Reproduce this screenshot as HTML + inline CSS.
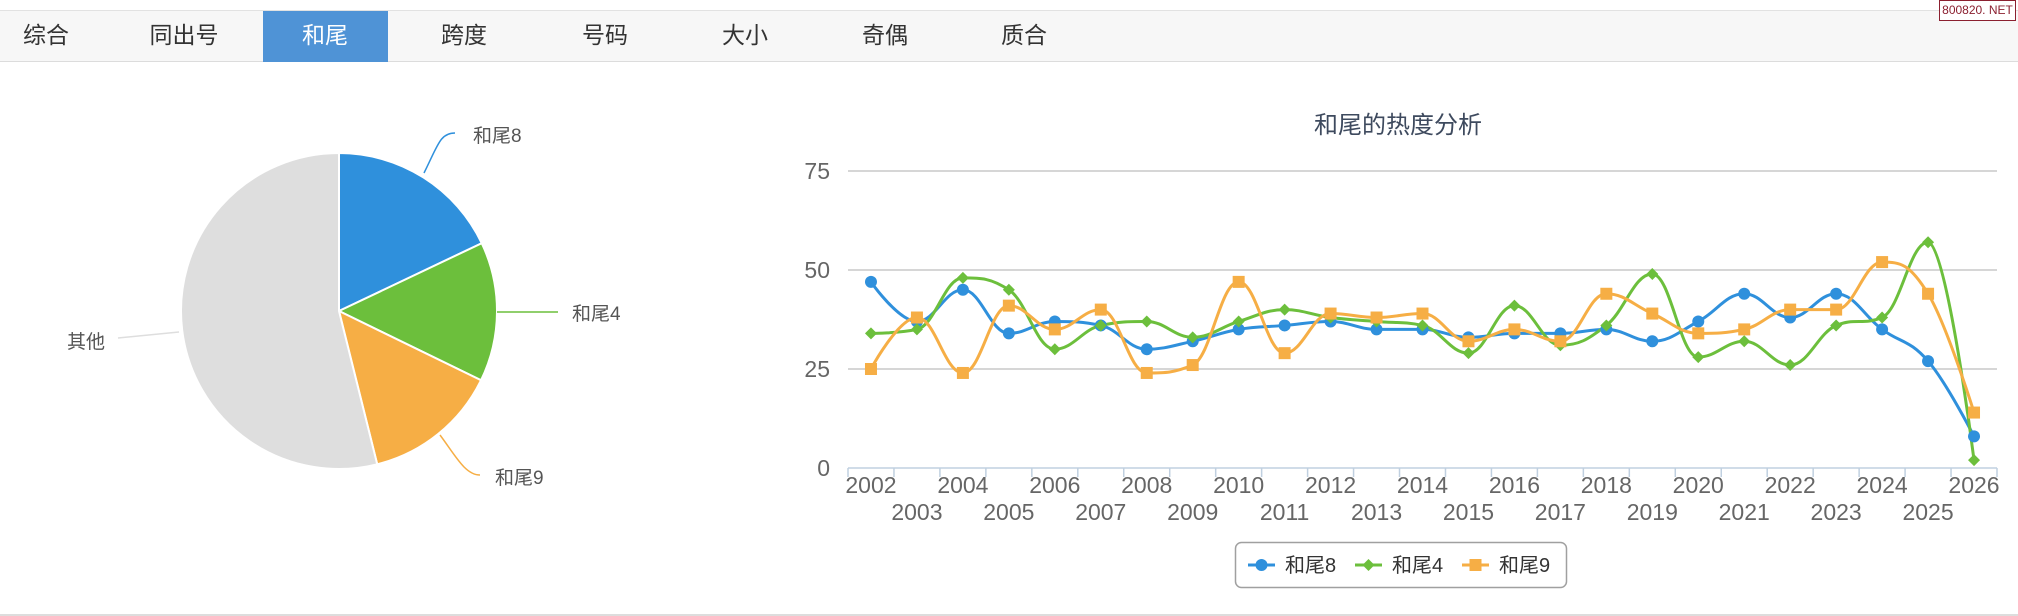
<!DOCTYPE html>
<html><head><meta charset="utf-8">
<style>
html,body{margin:0;padding:0;background:#fff;}
body{width:2018px;height:616px;position:relative;overflow:hidden;font-family:"Liberation Sans","Noto Sans CJK SC",sans-serif;}
.bar{position:absolute;left:0;top:10px;width:2018px;height:52px;background:#f7f7f7;border-top:1px solid #e2e2e2;border-bottom:1px solid #dcdcdc;box-sizing:border-box;}
.tab{position:absolute;top:0;height:51px;line-height:50px;font-size:23px;color:#333;transform:translateX(-50%);white-space:nowrap;}
.act{position:absolute;left:263px;top:11px;width:125px;height:51px;background:#4f93d6;}
.wm{position:absolute;left:1939px;top:0;width:77px;height:21px;border:1px solid #8b2030;box-sizing:border-box;font-size:12px;line-height:19px;color:#8b2030;text-align:center;background:#fff;}
.bl{position:absolute;left:0;top:614px;width:2018px;height:2px;background:#ddd;}
svg{position:absolute;left:0;top:0;}
</style></head><body>
<div class="bar"></div>
<div class="act"></div>
<div class="tab" style="left:46px;top:10px">综合</div>
<div class="tab" style="left:184px;top:10px">同出号</div>
<div class="tab" style="left:325px;top:10px;color:#fff">和尾</div>
<div class="tab" style="left:464px;top:10px">跨度</div>
<div class="tab" style="left:605px;top:10px">号码</div>
<div class="tab" style="left:745px;top:10px">大小</div>
<div class="tab" style="left:885px;top:10px">奇偶</div>
<div class="tab" style="left:1024px;top:10px">质合</div>
<div class="wm">800820. NET</div>
<div class="bl"></div>
<svg id="s" width="2018" height="616" xmlns="http://www.w3.org/2000/svg" font-family="Liberation Sans, Noto Sans CJK SC, sans-serif">
<g id="pie"></g>
<g id="chart"></g>
</svg>
<script>
var NS="http://www.w3.org/2000/svg";
function el(t,a,p,txt){if(typeof p==='string'){txt=p;p=null;}var e=document.createElementNS(NS,t);for(var k in a)e.setAttribute(k,a[k]);if(txt!=null)e.textContent=txt;(p||document.getElementById('chart')).appendChild(e);return e;}
var pie=document.getElementById('pie');
var cx=339,cy=311,r=158;
var sl=[[0,64.6,'#2f90dc'],[64.6,116,'#6cbf3c'],[116,166,'#f6ae45'],[166,360,'#dedede']];
function pt(a){var t=a*Math.PI/180;return [cx+r*Math.sin(t),cy-r*Math.cos(t)];}
sl.forEach(function(s){var p1=pt(s[0]),p2=pt(s[1]);var lg=(s[1]-s[0])>180?1:0;
el('path',{d:'M'+cx+','+cy+'L'+p1[0]+','+p1[1]+'A'+r+','+r+' 0 '+lg+' 1 '+p2[0]+','+p2[1]+'Z',fill:s[2],stroke:'#fff','stroke-width':2},pie);});
el('path',{d:'M424,173 C438,145 440,133 455,133',fill:'none',stroke:'#2f90dc','stroke-width':1.5},pie);
el('path',{d:'M497,312 L558,312',fill:'none',stroke:'#6cbf3c','stroke-width':1.5},pie);
el('path',{d:'M440,435 C455,455 465,475 480,475',fill:'none',stroke:'#f6ae45','stroke-width':1.5},pie);
el('path',{d:'M179,332 L118,338',fill:'none',stroke:'#dedede','stroke-width':1.5},pie);
function pt2(x,y,t){el('text',{x:x,y:y,fill:'#555','font-size':'19px'},pie,t);}
pt2(473,142,'和尾8');pt2(572,320,'和尾4');pt2(495,484,'和尾9');pt2(67,348,'其他');
var L=848,R=1997,W=(R-L)/25;
function X(i){return L+W*(i+0.5);}
function Y(v){return 468-v*3.96;}
[0,25,50,75].forEach(function(v){
 el('line',{x1:L,x2:R,y1:Y(v),y2:Y(v),stroke:v==0?'#c0d0e0':'#c8c8c8','stroke-width':1.5});
 el('text',{x:830,y:Y(v)+8,'text-anchor':'end','font-size':'23px',fill:'#666'},null,String(v));
});
for(var k=0;k<=25;k++){el('line',{x1:L+W*k,x2:L+W*k,y1:468,y2:477,stroke:'#c0d0e0','stroke-width':1.5});}
for(var i=0;i<25;i++){var even=i%2==0;
 el('text',{x:X(i),y:even?493:520,'text-anchor':'middle','font-size':'23px',fill:'#666'},null,String(2002+i));}
el('text',{x:1398,y:133,'text-anchor':'middle','font-size':'24px',fill:'#3e4a5e'},null,'和尾的热度分析');
var data=[
 {c:'#2f90dc',m:'c',v:[47,37,45,34,37,36,30,32,35,36,37,35,35,33,34,34,35,32,37,44,38,44,35,27,8]},
 {c:'#6cbf3c',m:'d',v:[34,35,48,45,30,36,37,33,37,40,38,37,36,29,41,31,36,49,28,32,26,36,38,57,2]},
 {c:'#f6ae45',m:'s',v:[25,38,24,41,35,40,24,26,47,29,39,38,39,32,35,32,44,39,34,35,40,40,52,44,14]}
];
function spline(pts){
 var d='M'+pts[0][0]+','+pts[0][1];
 var sm=1.5,den=sm+1;
 var ctrl=[];
 for(var i=0;i<pts.length;i++){
  if(i==0||i==pts.length-1){ctrl.push(null);continue;}
  var p=pts[i],a=pts[i-1],b=pts[i+1];
  var lx=(sm*p[0]+a[0])/den,ly=(sm*p[1]+a[1])/den,rx=(sm*p[0]+b[0])/den,ry=(sm*p[1]+b[1])/den;
  var cor=0;if(rx!=lx){cor=((ry-ly)*(rx-p[0]))/(rx-lx)+p[1]-ry;}
  ly+=cor;ry+=cor;
  if(ly>a[1]&&ly>p[1]){ly=Math.max(a[1],p[1]);ry=2*p[1]-ly;}else if(ly<a[1]&&ly<p[1]){ly=Math.min(a[1],p[1]);ry=2*p[1]-ly;}
  if(ry>b[1]&&ry>p[1]){ry=Math.max(b[1],p[1]);ly=2*p[1]-ry;}else if(ry<b[1]&&ry<p[1]){ry=Math.min(b[1],p[1]);ly=2*p[1]-ry;}
  ctrl.push([lx,ly,rx,ry]);
 }
 for(var i=1;i<pts.length;i++){
  var c1=ctrl[i-1]?[ctrl[i-1][2],ctrl[i-1][3]]:pts[i-1];
  var c2=ctrl[i]?[ctrl[i][0],ctrl[i][1]]:pts[i];
  d+='C'+c1[0]+','+c1[1]+' '+c2[0]+','+c2[1]+' '+pts[i][0]+','+pts[i][1];
 }
 return d;
}
function marker(m,x,y,c){
 if(m=='c')el('circle',{cx:x,cy:y,r:6,fill:c});
 else if(m=='d')el('path',{d:'M'+x+','+(y-6)+'L'+(x+6)+','+y+'L'+x+','+(y+6)+'L'+(x-6)+','+y+'Z',fill:c});
 else el('rect',{x:x-6,y:y-6,width:12,height:12,fill:c});
}
data.forEach(function(s){
 var pts=s.v.map(function(v,i){return [X(i),Y(v)];});
 el('path',{d:spline(pts),fill:'none',stroke:s.c,'stroke-width':3});
});
data.forEach(function(s){s.v.forEach(function(v,i){marker(s.m,X(i),Y(v),s.c);});});
el('rect',{x:1235.5,y:542.5,width:331,height:45,rx:6,fill:'#fff',stroke:'#a0a0a0','stroke-width':1.5});
var lg=[[1248,'和尾8'],[1355,'和尾4'],[1462,'和尾9']];
lg.forEach(function(l,i){var s=data[i];
 el('line',{x1:l[0],x2:l[0]+27,y1:565,y2:565,stroke:s.c,'stroke-width':3});
 marker(s.m,l[0]+13.5,565,s.c);
 el('text',{x:l[0]+37,y:572,'font-size':'20px',fill:'#333'},null,l[1]);
});
</script>
</body></html>
